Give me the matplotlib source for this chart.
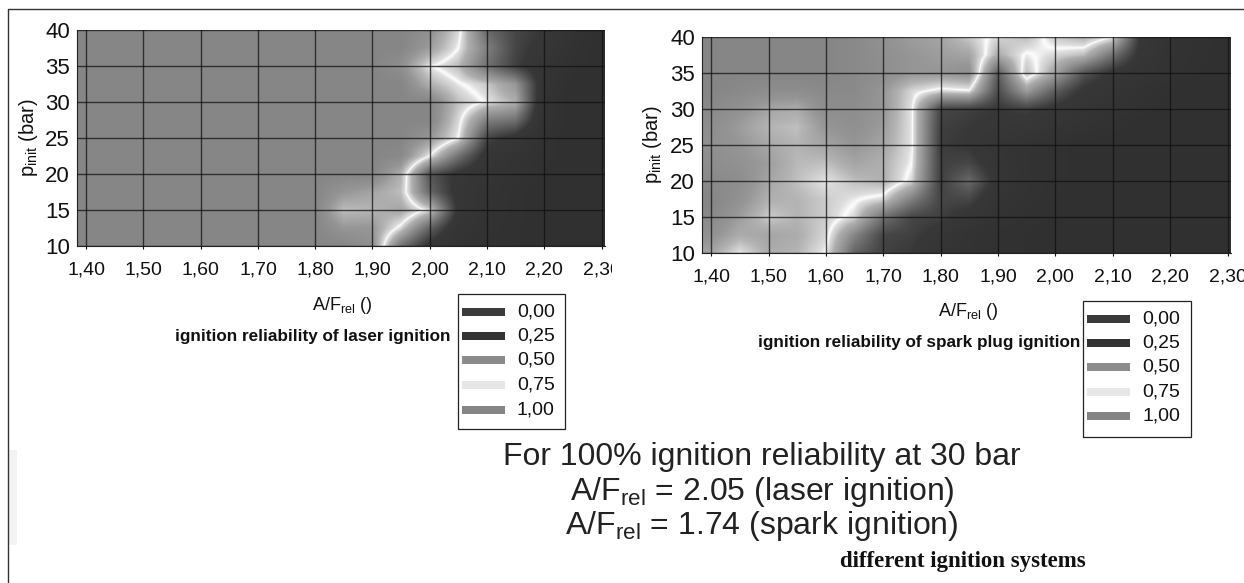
import matplotlib
matplotlib.use('Agg')
import matplotlib.pyplot as plt
import matplotlib.patches as patches
from matplotlib.colors import LinearSegmentedColormap
from matplotlib.transforms import Bbox
import numpy as np

plt.rcParams['font.family'] = ['Liberation Sans', 'DejaVu Sans']
plt.rcParams['mathtext.fontset'] = 'custom'
plt.rcParams['mathtext.rm'] = 'Liberation Sans'

W, H = 1244, 583

x_ticks = [1.4, 1.5, 1.6, 1.7, 1.8, 1.9, 2.0, 2.1, 2.2, 2.3]
x_labels = ['1,40', '1,50', '1,60', '1,70', '1,80', '1,90', '2,00', '2,10', '2,20', '2,30']
y_ticks = [10, 15, 20, 25, 30, 35, 40]
legend_labels = ['0,00', '0,25', '0,50', '0,75', '1,00']
legend_colors = ['#3a3a3a', '#333333', '#8c8c8c', '#e6e6e6', '#858585']

# rows from p = 10 up to p = 40 in steps of 2.5, columns A/F 1.40 ... 2.30 in steps of 0.05
laser = [
    [1, 1, 1, 1, 1, 1, 1, 1, 1, 1, .95, .45, .2, .1, .05, .03, 0, 0, 0],
    [1, 1, 1, 1, 1, 1, 1, 1, 1, .92, .92, .72, .4, .15, .08, .04, 0, 0, 0],
    [1, 1, 1, 1, 1, 1, 1, 1, 1, .82, .84, .88, .72, .22, .1, .05, 0, 0, 0],
    [1, 1, 1, 1, 1, 1, 1, 1, 1, .92, .88, .82, .42, .2, .12, .05, 0, 0, 0],
    [1, 1, 1, 1, 1, 1, 1, 1, 1, 1, 1, .85, .35, .22, .15, .08, .02, 0, 0],
    [1, 1, 1, 1, 1, 1, 1, 1, 1, 1, 1, .98, .75, .45, .2, .12, .05, 0, 0],
    [1, 1, 1, 1, 1, 1, 1, 1, 1, 1, 1, 1, .92, .75, .3, .2, .05, 0, 0],
    [1, 1, 1, 1, 1, 1, 1, 1, 1, 1, 1, 1, 1, .78, .5, .45, .1, 0, 0],
    [1, 1, 1, 1, 1, 1, 1, 1, 1, 1, 1, 1, 1, .82, .74, .66, .1, 0, 0],
    [1, 1, 1, 1, 1, 1, 1, 1, 1, 1, 1, 1, .85, .76, .7, .58, .15, 0, 0],
    [1, 1, 1, 1, 1, 1, 1, 1, 1, 1, 1, .95, .76, .68, .45, .28, .15, .05, 0],
    [1, 1, 1, 1, 1, 1, 1, 1, 1, 1, 1, 1, .9, .75, .5, .3, .2, .08, 0],
    [1, 1, 1, 1, 1, 1, 1, 1, 1, 1, 1, 1, .95, .78, .42, .3, .25, .1, 0],
]

spark = [
    [.88, .76, .86, .84, .75, .4, .28, .25, .15, .1, .05, .03, 0, 0, 0, 0, 0, 0, 0],
    [.94, .86, .88, .86, .78, .52, .3, .28, .2, .1, .05, .03, 0, 0, 0, 0, 0, 0, 0],
    [.98, .9, .8, .84, .8, .72, .45, .3, .28, .2, .1, .05, .03, 0, 0, 0, 0, 0, 0],
    [1, .94, .85, .84, .8, .76, .72, .5, .3, .3, .15, .08, .03, 0, 0, 0, 0, 0, 0],
    [.98, .96, .88, .82, .76, .82, .85, .72, .28, .42, .2, .1, .05, 0, 0, 0, 0, 0, 0],
    [.96, .94, .9, .83, .82, .88, .85, .75, .28, .3, .18, .1, .05, 0, 0, 0, 0, 0, 0],
    [.95, .92, .87, .84, .88, .92, .88, .76, .27, .24, .15, .1, .05, 0, 0, 0, 0, 0, 0],
    [.96, .9, .84, .82, .92, .95, .9, .76, .28, .25, .22, .2, .15, .1, .05, 0, 0, 0, 0],
    [.98, .94, .88, .86, .96, .96, .92, .76, .3, .28, .25, .28, .22, .15, .1, .05, 0, 0, 0],
    [1, .98, .96, .96, .98, .98, .92, .78, .72, .74, .32, .6, .38, .22, .15, .08, .03, 0, 0],
    [1, 1, 1, 1, 1, .98, .96, .92, .92, .95, .38, .82, .62, .35, .22, .15, .08, .03, 0],
    [1, 1, 1, 1, 1, .98, .95, .92, .9, .88, .65, .76, .72, .68, .45, .2, .1, .05, 0],
    [1, 1, 1, 1, 1, .98, .94, .9, .88, .8, .72, .68, .8, .85, .75, .22, .1, .05, 0],
]

cmap = LinearSegmentedColormap.from_list('rel', [
    (0, '#303030'), (.25, '#383838'), (.5, '#808080'), (.66, '#aeaeae'), (.73, '#dedede'), (.75, '#fdfdfd'),
    (.77, '#dedede'), (.84, '#b4b4b4'), (.92, '#969696'), (1, '#868686')], N=1024)


def px_axes(fig, l, t, r, b):
    return fig.add_axes([l / W, 1 - b / H, (r - l) / W, (b - t) / H])


def txt(fig, x, y, s, **kw):
    kw.setdefault('ha', 'center')
    kw.setdefault('va', 'center')
    return fig.text(x / W, 1 - y / H, s, **kw)


def heat(fig, box, data, clip_right=None):
    ax = px_axes(fig, *box)
    ax.imshow(np.array(data, dtype=float), origin='lower', aspect='auto', cmap=cmap, vmin=0, vmax=1,
              extent=[1.375, 2.325, 8.75, 41.25], interpolation='bilinear', interpolation_stage='data')
    ax.set_xlim(1.384, 2.306)
    ax.set_ylim(10, 40)
    ax.set_xticks(x_ticks)
    ax.set_xticklabels(x_labels, fontsize=14)
    ax.set_yticks(y_ticks)
    ax.tick_params(axis='y', labelsize=16, length=0, pad=5, colors='#111111')
    ax.tick_params(axis='x', length=2.5, pad=9, width=0.8, colors='#111111')
    ax.grid(color='#111111', linewidth=1, alpha=0.75)
    ax.set_axisbelow(False)
    for s in ['top', 'right']:
        ax.spines[s].set_visible(False)
    for s in ['left', 'bottom']:
        ax.spines[s].set_color('#222222')
        ax.spines[s].set_linewidth(0.8)
    if clip_right:
        for lab in ax.get_xticklabels():
            lab.set_clip_box(Bbox([[0, 0], [clip_right, H]]))
            lab.set_clip_on(True)
    return ax


def legend_box(fig, l, t, r, b, rows):
    fig.add_artist(patches.Rectangle((l / W, 1 - b / H), (r - l) / W, (b - t) / H, transform=fig.transFigure,
                                     facecolor='white', edgecolor='#222222', linewidth=0.9))
    for y, lab, col in zip(rows, legend_labels, legend_colors):
        fig.add_artist(patches.Rectangle(((l + 4) / W, 1 - (y + 4) / H), 43 / W, 8 / H,
                                         transform=fig.transFigure, facecolor=col, edgecolor='none'))
        txt(fig, l + 59, y, lab, ha='left', fontsize=14, color='#111111')


fig = plt.figure(figsize=(W / 100, H / 100), dpi=100, facecolor='white')

# page border and the faint smudge at the left
fig.add_artist(plt.Line2D([8 / W, 8 / W, 1], [0, 1 - 9 / H, 1 - 9 / H], color='#333333', linewidth=1))
fig.add_artist(patches.Rectangle((9 / W, 1 - 545 / H), 8 / W, 95 / H, transform=fig.transFigure,
                                 facecolor='#f3f3f3', edgecolor='none'))

heat(fig, (77, 30, 605, 246), laser, clip_right=612)
heat(fig, (702, 37, 1231, 253), spark)

txt(fig, 28, 138, r'p$_{\mathrm{init}}$ (bar)', rotation=90, fontsize=14.5, color='#111111')
txt(fig, 652, 145, r'p$_{\mathrm{init}}$ (bar)', rotation=90, fontsize=14.5, color='#111111')
txt(fig, 342, 305, r'A/F$_{\mathrm{rel}}$ ()', fontsize=13, color='#111111')
txt(fig, 968, 312, r'A/F$_{\mathrm{rel}}$ ()', fontsize=13, color='#111111')
txt(fig, 313, 336, 'ignition reliability of laser ignition', fontsize=12.3, color='#111111', fontweight='bold')
txt(fig, 919, 343, 'ignition reliability of spark plug ignition', fontsize=12.3, color='#111111', fontweight='bold')

legend_box(fig, 458, 294, 565, 429, [312, 336, 360, 385, 410])
legend_box(fig, 1083, 301, 1191, 437, [319, 343, 367, 392, 416])

txt(fig, 762, 457, 'For 100% ignition reliability at 30 bar', fontsize=23, color='#222222')
txt(fig, 762, 492, r'A/F$_{\mathrm{rel}}$ = 2.05 (laser ignition)', fontsize=23, color='#222222')
txt(fig, 762, 526, r'A/F$_{\mathrm{rel}}$ = 1.74 (spark ignition)', fontsize=23, color='#222222')
txt(fig, 963, 561, 'different ignition systems', fontsize=16.5, family='Liberation Serif', fontweight='bold', color='#111111')

fig.savefig('out.png', dpi=100)
